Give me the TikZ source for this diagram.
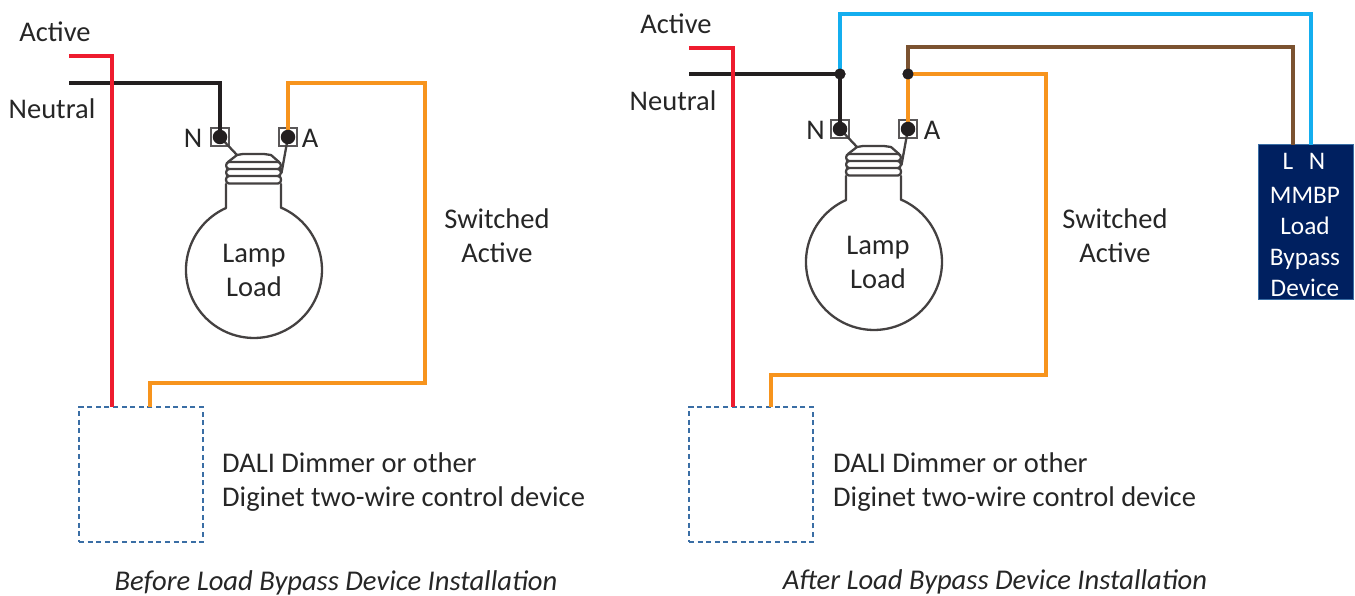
\documentclass[tikz,border=0pt]{standalone}
\usepackage{fontspec}
\setmainfont{Carlito}
\definecolor{wred}{HTML}{EE1C2E}
\definecolor{worange}{HTML}{F7941D}
\definecolor{wblue}{HTML}{14AEEF}
\definecolor{wbrown}{HTML}{7B5230}
\definecolor{wblack}{HTML}{231F20}
\definecolor{dashblue}{HTML}{3A6EA5}
\definecolor{devblue}{HTML}{002060}
\tikzset{
  wire/.style={line width=3.8pt,line join=miter},
  lampline/.style={draw=wblack!85!white,line width=2.3pt,line cap=round,line join=round},
  term/.style={draw=wblack!75!white,fill=white,line width=2.4pt,minimum size=17.5pt,inner sep=0pt,outer sep=0pt},
  dot/.style={circle,fill=wblack,minimum size=#1,inner sep=0pt,outer sep=0pt},
  dot/.default=14.5pt,
  ctrlbox/.style={draw=dashblue,line width=1.1pt,dash pattern=on 5pt off 3.6pt,minimum width=124pt,minimum height=135pt,inner sep=0pt,outer sep=0pt},
  lbl/.style={font=\fontsize{28.5}{30}\selectfont,inner sep=0pt,text=black!85!white},
  captxt/.style={font=\fontsize{28.6}{30}\itshape\selectfont,inner sep=0pt,text=black!85!white},
  devbox/.style={draw=dashblue,fill=devblue,line width=1pt,minimum width=95pt,minimum height=154pt,inner sep=0pt,outer sep=0pt},
  devtxt/.style={font=\fontsize{25.3}{30}\selectfont,inner sep=0pt,text=white}
}
% #1 name prefix, #2 x offset, #3 y offset
\newcommand{\lampdraw}[3]{%
 \begin{scope}[shift={(#2,#3)}]
  \node[term] (#1Nt) at (220,137) {};
  \node[term] (#1At) at (288,137) {};
  \draw[lampline] (226,184) -- (226,208) arc[start angle=245.7,end angle=-65.7,radius=68] -- (281,208) -- (281,184);
  \draw[lampline] (228,162) -- (237,155) -- (243,154) -- (264,154) -- (271,155) -- (279,162);
  \draw[lampline] (229,162) -- (278,162) to[out=0,in=0,looseness=1.4] (278,169) -- (229,169) to[out=180,in=180,looseness=1.4] (229,162);
  \draw[lampline] (229,169) to[out=180,in=180,looseness=1.4] (229,176) -- (278,176) to[out=0,in=0,looseness=1.4] (278,169);
  \draw[lampline] (229,176) to[out=180,in=180,looseness=1.4] (229,183.5) -- (278,183.5) to[out=0,in=0,looseness=1.4] (278,176);
  \coordinate (#1capN) at (237,155);
  \coordinate (#1capA) at (281.5,173);
  \draw[lampline] (#1Nt.center) -- (#1capN);
  \draw[lampline] (#1At.center) -- (#1capA);
 \end{scope}}
\begin{document}
\begin{tikzpicture}[x=1pt,y=-1pt]
\useasboundingbox (0,0) rectangle (1355,596);
% LEFT
\node[lbl] (aL) at (55,32) {Active};
\node[lbl] (nL) at (52,109) {Neutral};
\node[ctrlbox] (ctlL) at (141,474.5) {};
\coordinate (redLs) at (69,56);
\coordinate (redLe) at (112,407);
\coordinate (blkLs) at (69,83);
\coordinate (orL1) at (425,83);
\coordinate (orL2) at (150,383);
\coordinate (orLe) at (150,407);
\lampdraw{L}{0}{0}
\node[lbl] (LNl) at (193,138) {N};
\node[lbl] (LAl) at (310,138) {A};
\node[lbl] (Llamp) at (254,256) {Lamp};
\node[lbl] (Lload) at (254,287) {Load};
\draw[wire,wblack] (blkLs) -| (LNt.center);
\draw[wire,wred] (redLs) -| (redLe);
\draw[wire,worange] (LAt.center) |- (orL1) |- (orL2) -- (orLe);
\node[dot] (LN) at (LNt) {};
\node[dot] (LA) at (LAt) {};
\node[lbl] (swL) at (497,219) {Switched};
\node[lbl] (swL2) at (497,253) {Active};
\node[lbl,anchor=west] (dL1) at (222,463) {DALI Dimmer or other};
\node[lbl,anchor=west] (dL2) at (222,499) {Diginet two-wire control device};
\node[captxt] (cL) at (336,583) {Before Load Bypass Device Installation};
% RIGHT
\node[lbl] (aR) at (676,24) {Active};
\node[lbl] (nR) at (673,101) {Neutral};
\node[ctrlbox] (ctlR) at (751,474.5) {};
\node[devbox] (dev) at (1305.5,222) {};
\coordinate (redRs) at (689,48);
\coordinate (redRe) at (733,407);
\coordinate (blkRs) at (689,74);
\coordinate (orR1) at (1046,74);
\coordinate (orR2) at (771,375);
\coordinate (orRe) at (771,407);
\coordinate (bluC) at (1311,14);
\coordinate (bluE) at (1311,145);
\coordinate (broC) at (1293,47);
\coordinate (broE) at (1293,145);
\lampdraw{R}{620}{-8}
\node[lbl] (RNl) at (815.5,130) {N};
\node[lbl] (RAl) at (932,130) {A};
\node[lbl] (Rlamp) at (878,248) {Lamp};
\node[lbl] (Rload) at (878,279) {Load};
\node[dot=11pt] (jN) at (840,74) {};
\node[dot=11pt] (jA) at (908,74) {};
\draw[wire,wblue] (jN.center) |- (bluC) -- (bluE);
\draw[wire,wbrown] (jA.center) |- (broC) -- (broE);
\draw[wire,wblack] (blkRs) -- (jN.center) -- (RNt.center);
\draw[wire,wred] (redRs) -| (redRe);
\draw[wire,worange] (RAt.center) -- (jA.center) -- (orR1) |- (orR2) -- (orRe);
\node[dot=11pt] at (jN) {};
\node[dot=11pt] at (jA) {};
\node[dot] (RN) at (RNt) {};
\node[dot] (RA) at (RAt) {};
\node[lbl] (swR) at (1115,219) {Switched};
\node[lbl] (swR2) at (1115,253) {Active};
\node[lbl,anchor=west] (dR1) at (833,463) {DALI Dimmer or other};
\node[lbl,anchor=west] (dR2) at (833,499) {Diginet two-wire control device};
\node[captxt] (cR) at (995,582) {After Load Bypass Device Installation};
\node[devtxt] (dL) at (1288,161) {L};
\node[devtxt] (dN) at (1317,161) {N};
\node[devtxt] (d1) at (1305,195) {MMBP};
\node[devtxt] (d2) at (1305,226) {Load};
\node[devtxt] (d3) at (1305,259) {Bypass};
\node[devtxt] (d4) at (1305,288) {Device};
\end{tikzpicture}
\end{document}
